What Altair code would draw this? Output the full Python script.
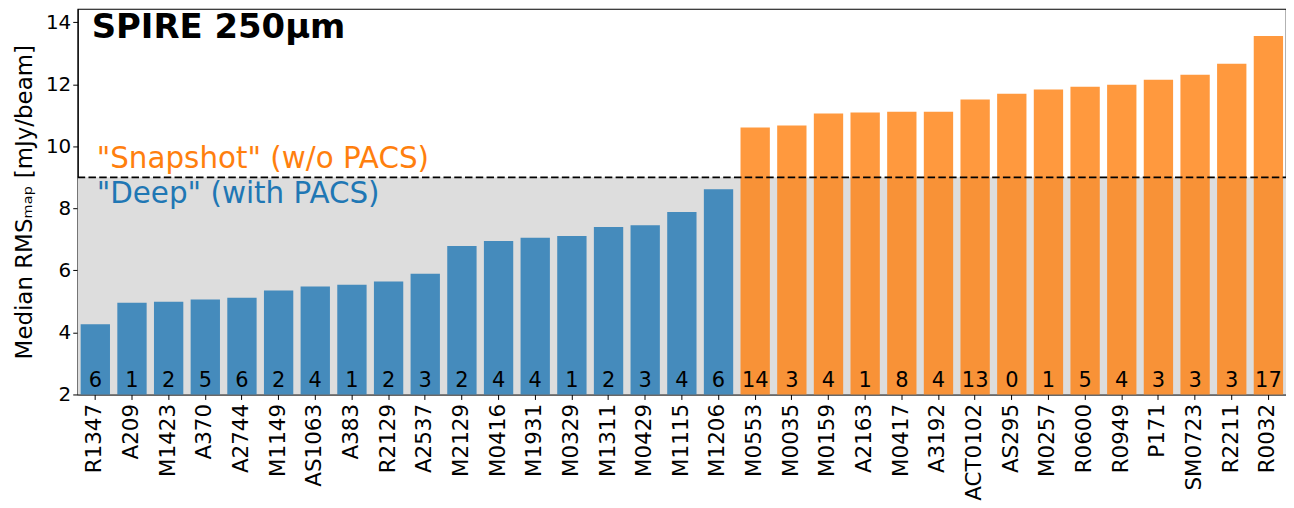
import altair as alt
import pandas as pd

# ---- data ----
clusters = ["R1347", "A209", "M1423", "A370", "A2744", "M1149", "AS1063", "A383",
            "R2129", "A2537", "M2129", "M0416", "M1931", "M0329", "M1311", "M0429",
            "M1115", "M1206", "M0553", "M0035", "M0159", "A2163", "M0417", "A3192",
            "ACT0102", "AS295", "M0257", "R0600", "R0949", "P171", "SM0723", "R2211",
            "R0032"]
rms = [4.26, 4.96, 4.99, 5.06, 5.12, 5.35, 5.48, 5.54, 5.64, 5.89, 6.79, 6.95,
       7.05, 7.11, 7.40, 7.46, 7.88, 8.62, 10.61, 10.67, 11.06, 11.09, 11.12, 11.12,
       11.51, 11.70, 11.83, 11.92, 11.99, 12.15, 12.31, 12.66, 13.56]
counts = [6, 1, 2, 5, 6, 2, 4, 1, 2, 3, 2, 4, 4, 1, 2, 3, 4, 6,
          14, 3, 4, 1, 8, 4, 13, 0, 1, 5, 4, 3, 3, 3, 17]
tiers = ["Deep"] * 18 + ["Snapshot"] * 15
THRESHOLD = 9
Y_MIN, Y_MAX = 2, 14.43
y_ticks = [2, 4, 6, 8, 10, 12, 14]

BLUE = "#1f77b4"
ORANGE = "#ff7f0e"
W, H = 1213, 387

df = pd.DataFrame({"cluster": clusters, "rms": rms, "n": counts, "tier": tiers})
band = pd.DataFrame({"lo": [Y_MIN], "hi": [THRESHOLD]})

x_enc = alt.X("cluster:N", sort=clusters,
              scale=alt.Scale(paddingInner=0.2, paddingOuter=0.08),
              axis=alt.Axis(title=None, labelAngle=-90, labelAlign="right",
                            labelBaseline="middle", labelFontSize=21.5,
                            labelPadding=4, tickSize=5, labelColor="black",
                            tickColor="black", domainColor="black"))
y_scale = alt.Scale(domain=[Y_MIN, Y_MAX], nice=False, zero=False)

gray = alt.Chart(band).mark_rect(color="#dddddd").encode(
    x=alt.value(0), x2=alt.value(W),
    y=alt.Y("lo:Q", scale=y_scale,
            axis=alt.Axis(title="Median RMSₘₐₚ [mJy/beam]", values=y_ticks,
                          titleFontSize=23, titleFontWeight="normal",
                          labelFontSize=20, tickSize=5, grid=False,
                          labelColor="black", tickColor="black",
                          domainColor="black", titleColor="black",
                          titlePadding=9)),
    y2="hi:Q",
)

base = alt.Chart(df)

bars = base.mark_bar(opacity=0.8).encode(
    x=x_enc,
    y=alt.Y("rms:Q", scale=y_scale),
    y2=alt.datum(Y_MIN),
    color=alt.Color("tier:N", scale=alt.Scale(domain=["Deep", "Snapshot"],
                                              range=[BLUE, ORANGE]),
                    legend=None),
)

labels = base.mark_text(fontSize=21, color="black", baseline="alphabetic",
                        align="center", dy=-7).encode(
    x=alt.X("cluster:N", sort=clusters),
    y=alt.datum(Y_MIN),
    text="n:Q",
)

rule = alt.Chart(band).mark_rule(color="black", strokeDash=[7.5, 3.3],
                                 strokeWidth=1.6).encode(
    y="hi:Q", x=alt.value(0), x2=alt.value(W))

title_txt = alt.Chart(pd.DataFrame({"t": ["SPIRE 250μm"]})).mark_text(
    fontSize=34, fontWeight="bold", align="left", baseline="alphabetic",
    color="black").encode(x=alt.value(14), y=alt.value(29), text="t:N")

snap_txt = alt.Chart(pd.DataFrame({"t": ['"Snapshot" (w/o PACS)'],
                                   "v": [THRESHOLD]})).mark_text(
    fontSize=29.5, align="left", baseline="alphabetic", color=ORANGE, dy=-9
).encode(x=alt.value(19), y="v:Q", text="t:N")

deep_txt = alt.Chart(pd.DataFrame({"t": ['"Deep" (with PACS)'],
                                   "v": [THRESHOLD]})).mark_text(
    fontSize=29.5, align="left", baseline="alphabetic", color=BLUE, dy=26
).encode(x=alt.value(19), y="v:Q", text="t:N")

chart = alt.layer(gray, bars, labels, rule, title_txt, snap_txt, deep_txt).properties(
    width=W, height=H,
    autosize=alt.AutoSizeParams(type="none"),
    padding={"left": 70, "top": 0, "right": 0, "bottom": 112},
).configure(font="DejaVu Sans").configure_view(
    stroke="black", strokeWidth=1.2
)

chart.save("out.html", embed_options={"renderer": "svg", "actions": False})
